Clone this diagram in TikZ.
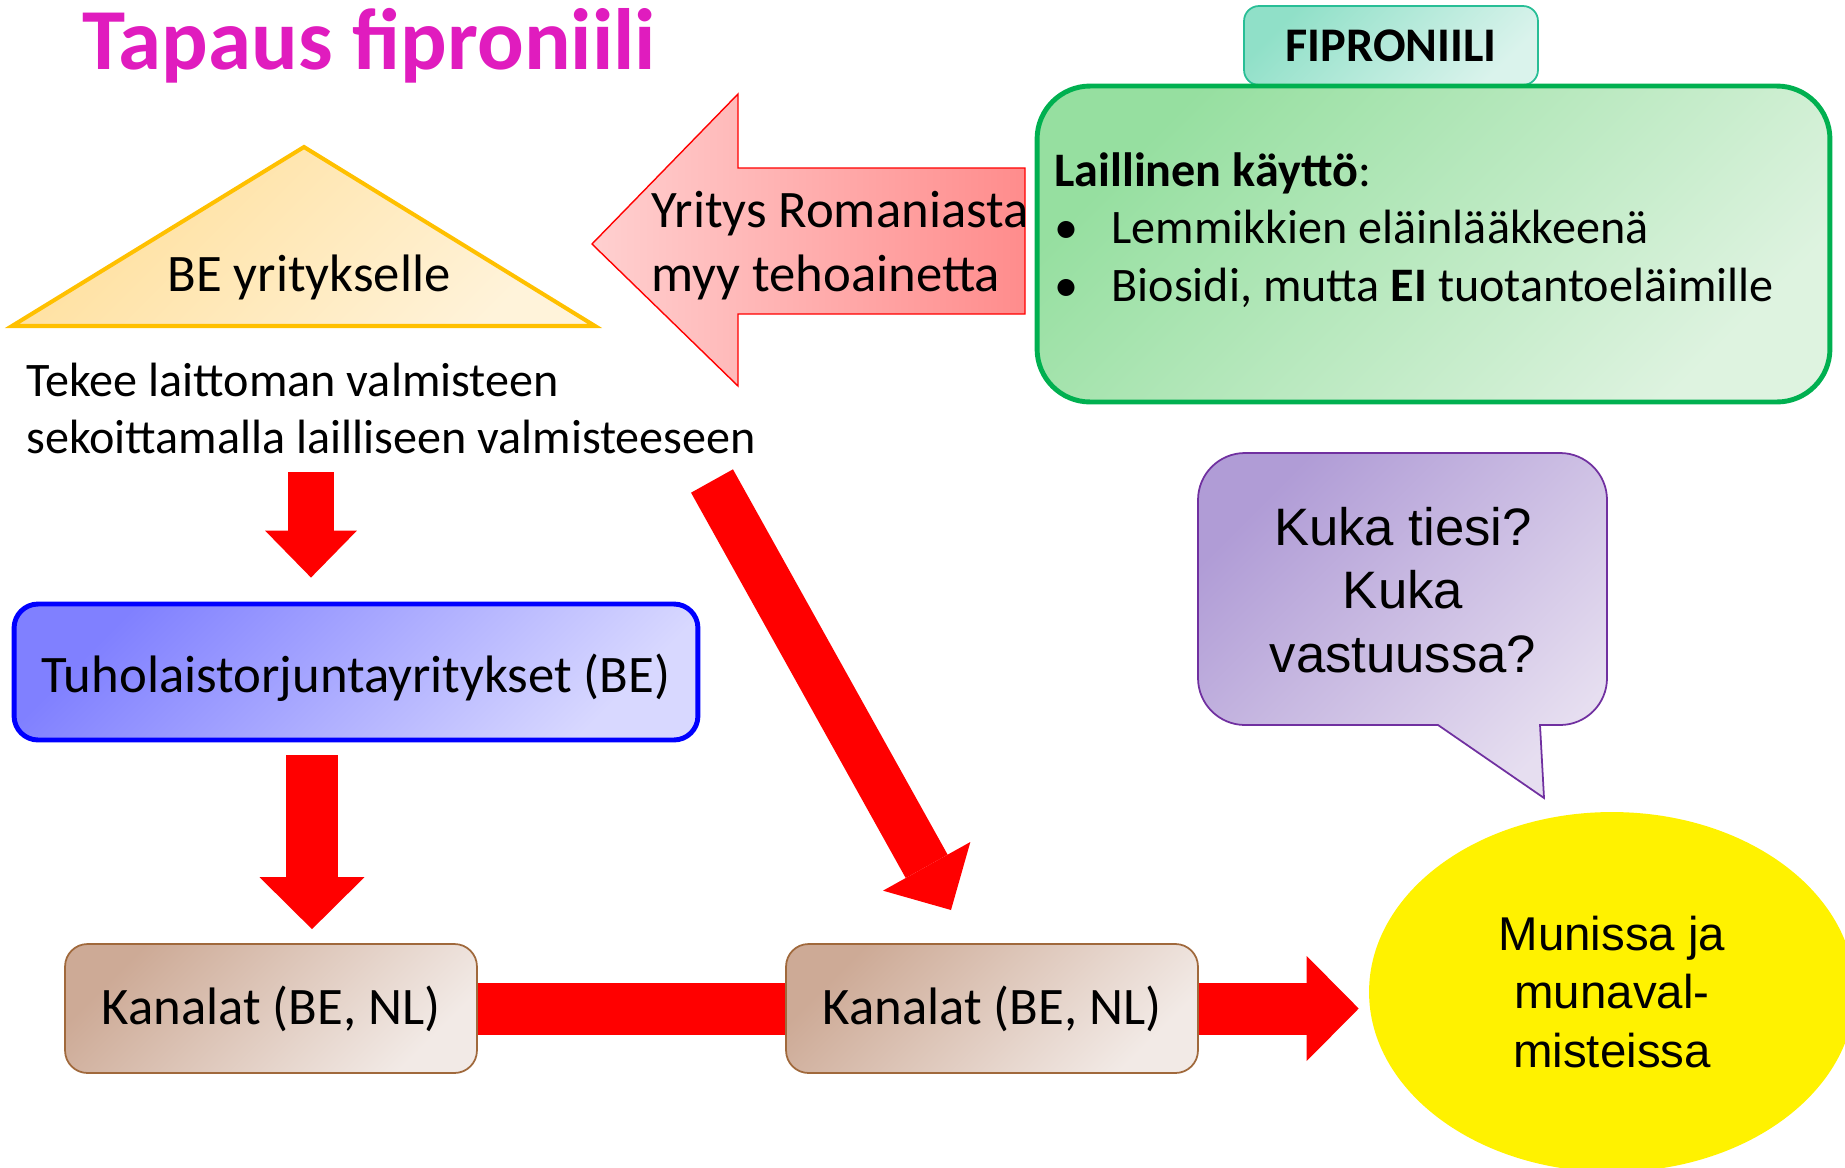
\documentclass[tikz,border=0pt]{standalone}
\usepackage{fontspec}
\setmainfont{Carlito}
\newfontfamily\arialfont{Liberation Sans}
\usetikzlibrary{arrows.meta,shapes.geometric}
\definecolor{otsikko}{RGB}{224,28,190}
\definecolor{tabreuna}{RGB}{40,190,150}
\definecolor{tabA}{RGB}{144,224,200}
\definecolor{tabB}{RGB}{218,243,236}
\definecolor{vihreareuna}{RGB}{0,176,80}
\definecolor{vihreaA}{RGB}{150,223,160}
\definecolor{vihreaB}{RGB}{222,243,224}
\definecolor{nuoliA}{RGB}{255,208,208}
\definecolor{nuoliB}{RGB}{255,140,140}
\definecolor{kolmioreuna}{RGB}{255,192,0}
\definecolor{kolmioA}{RGB}{255,223,155}
\definecolor{kolmioB}{RGB}{255,243,218}
\definecolor{sininenA}{RGB}{128,128,255}
\definecolor{sininenB}{RGB}{216,216,255}
\definecolor{kanalareuna}{RGB}{160,105,60}
\definecolor{kanalaA}{RGB}{205,170,150}
\definecolor{kanalaB}{RGB}{242,234,230}
\definecolor{kuplareuna}{RGB}{112,48,160}
\definecolor{kuplaA}{RGB}{176,156,214}
\definecolor{kuplaB}{RGB}{230,222,240}

\begin{document}
\begin{tikzpicture}[x=0.02cm, y=-0.02cm, every node/.style={inner sep=0pt},
    nuoli/.style={draw=red, line width=1.04cm, -{Triangle[length=1.04cm, width=2.1cm, line width=0pt]}},
    liuku/.style 2 args={top color=#1, bottom color=#2, shading angle=45},
    kanala/.style={draw=kanalareuna, line width=1pt, rounded corners=0.45cm, liuku={kanalaA}{kanalaB},
        minimum width=8.24cm, minimum height=2.58cm, font=\fontsize{30}{36}\selectfont}]
    % 0. Kehys
    \useasboundingbox (0,0) rectangle (1845,1167);
    \clip (0,0) rectangle (1845,1167);

    % 1. Otsikko
    \node[anchor=base west, text=otsikko, font=\bfseries\fontsize{49.5}{59}\selectfont] (otsikko) at (82,69) {Tapaus fiproniili};

    % 2. Fiproniili ja laillinen käyttö
    \node[draw=tabreuna, line width=1pt, rounded corners=0.3cm, liuku={tabA}{tabB}, minimum width=5.88cm, minimum height=1.58cm,
        font=\bfseries\fontsize{27.5}{32}\selectfont] (fipro) at (1391,45.5) {FIPRONIILI};
    \node[draw=vihreareuna, line width=2.8pt, rounded corners=1.06cm, liuku={vihreaA}{vihreaB},
        minimum width=15.86cm, minimum height=6.32cm] (vihrea) at (1433.5,244) {};
    \node[anchor=west, align=left, font=\fontsize{27.4}{32.8}\selectfont] (kaytto) at (1054,230)
        {\textbf{Laillinen käyttö}:\\
         \makebox[32.5pt][l]{•}Lemmikkien eläinlääkkeenä\\
         \makebox[32.5pt][l]{•}Biosidi, mutta \textbf{EI} tuotantoeläimille};

    % 3. Nuoli Romaniasta
    \draw[draw=red, line width=0.8pt, left color=nuoliA, right color=nuoliB]
        (592,244) -- (738,94) -- (738,168) -- (1025,168) -- (1025,314) -- (738,314) -- (738,386) -- cycle;
    \node[anchor=west, align=left, font=\fontsize{30}{36}\selectfont] (romania) at (651,245.5) {Yritys Romaniasta\\myy tehoainetta};

    % 4. Kolmio ja teksti
    \draw[draw=kolmioreuna, line width=2.3pt, liuku={kolmioA}{kolmioB}] (304,147) -- (595,326) -- (12,326) -- cycle;
    \node[anchor=base, font=\fontsize{30}{36}\selectfont] (be) at (309,291) {BE yritykselle};
    \node[anchor=west, align=left, font=\fontsize{27.4}{32.3}\selectfont] (tekee) at (26,408.5)
        {Tekee laittoman valmisteen\\sekoittamalla lailliseen valmisteeseen};

    % 5. Laatikot
    \node[draw=blue, line width=2.8pt, rounded corners=0.48cm, liuku={sininenA}{sininenB}, minimum width=13.68cm, minimum height=2.72cm,
        text height=0.8cm, text depth=0cm, font=\fontsize{30}{36}\selectfont] (tuholais) at (356,672) {Tuholaistorjuntayritykset (BE)};
    \node[kanala] (kanala1) at (271,1008.5) {Kanalat (BE, NL)};
    \node[kanala] (kanala2) at (992,1008.5) {Kanalat (BE, NL)};
    \node[ellipse, fill=yellow, minimum width=9.72cm, minimum height=7.2cm, align=center,
        font=\arialfont\fontsize{27}{33.2}\selectfont] (muna) at (1612,992) {Munissa ja\\munaval-\\misteissa};

    % 6. Puhekupla
    \draw[draw=kuplareuna, line width=1pt, liuku={kuplaA}{kuplaB}]
        (1540,725) [rounded corners=0.94cm] -- (1607,725) -- (1607,453) -- (1198,453) -- (1198,725)
        [sharp corners] -- (1438,725) -- (1544,798) -- cycle;
    \node[align=center, font=\arialfont\fontsize{30}{36.3}\selectfont] (kuka) at (1403,590) {Kuka tiesi?\\Kuka\\vastuussa?};

    % 7. Nuolet
    \coordinate (n1) at (311,472);
    \coordinate (n2) at (312,755);
    \coordinate (n3) at (712,481);
    \coordinate (n4) at (951,910);
    \draw[nuoli, line width=0.92cm, -{Triangle[length=0.94cm, width=1.84cm, line width=0pt]}, shorten >=0.48cm]
        (n1) -- (n1 |- tuholais.north);
    \draw[nuoli, shorten >=0.28cm] (n2) -- (n2 |- kanala1.north);
    \draw[red, line width=1.04cm] (kanala1.east) -- (kanala2.west);
    \draw[nuoli, shorten >=0.2cm] (kanala2.east) -- (kanala2.east -| muna.west);
    \draw[nuoli, line width=0.96cm, -{Triangle[length=1cm, width=2cm, line width=0pt]}] (n3) -- (n4);
\end{tikzpicture}
\end{document}
